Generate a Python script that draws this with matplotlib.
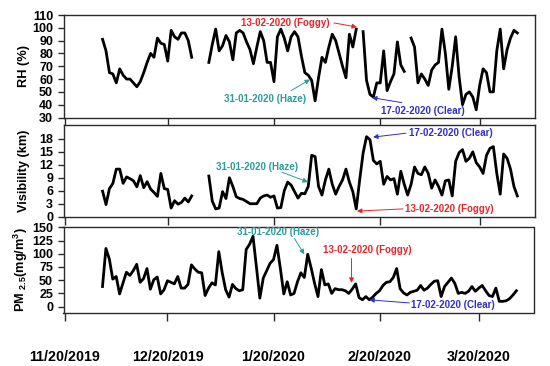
import numpy as np
import matplotlib
matplotlib.use("Agg")
import matplotlib.pyplot as plt
import matplotlib.dates as mdates
import pandas as pd

plt.rcParams['font.family'] = ['Liberation Sans', 'DejaVu Sans']
plt.rcParams['font.weight'] = 'bold'
plt.rcParams['mathtext.fontset'] = 'custom'
plt.rcParams['mathtext.rm'] = 'Liberation Sans:bold'
plt.rcParams['mathtext.it'] = 'Liberation Sans:bold'
plt.rcParams['mathtext.bf'] = 'Liberation Sans:bold'

nan = np.nan
dates = pd.date_range("2019-12-01", "2020-03-31", freq="D")

rh = ([91, 82, 65, 64, 57, 68, 63, 60, 60, 57, 54, 58, 65, 73, 80, 77, 92, 88, 87, 74,
       98, 93, 91, 96, 96, 90, 77]
      + [nan] * 4
      + [73, 87, 99, 82, 86, 94, 89, 75, 96, 98, 96, 89, 83, 72, 85, 97, 90, 73, 73, 58]
      + [93, 99, 92, 82, 93, 97, 93, 78, 65, 63, 59, 43, 61, 77, 73, 85, 95, 90, 80, 70,
         61, 95, 85, 99]
      + [nan]
      + [97, 59, 48, 46, 57, 57, 82, 51, 58, 64, 89, 71, 66]
      + [nan]
      + [92, 85, 57, 64, 60, 55, 67, 71, 73, 99, 80, 52, 70, 93, 62, 40, 48, 50, 46, 36,
         55, 68, 65, 50, 50, 82, 99, 68, 83, 92, 98, 96])

visibility = ([5.9, 2.8, 6.5, 7.7, 11.0, 11.0, 7.7, 9.2, 8.8, 8.3, 6.9, 9.5, 6.7, 8.1, 6.4,
               5.6, 4.7, 10.0, 6.5, 6.3, 2.0, 3.7, 2.9, 3.3, 4.3, 3.4, 4.8]
              + [nan] * 4
              + [9.4, 3.6, 1.8, 2.0, 5.8, 4.2, 9.0, 7.0, 4.6, 4.2,
                 4.0, 3.5, 3.0, 3.0, 3.0, 4.3, 4.8, 5.0, 4.5, 4.8,
                 2.0, 2.1, 6.0, 8.0, 7.3, 5.8, 4.3, 5.4, 5.3, 7.0,
                 14.2, 13.9, 7.0, 5.0, 8.5, 11.0, 7.5, 5.2, 7.0, 8.5,
                 11.0, 8.0, 5.8, 1.8, 8.5, 14.7, 18.5, 17.8, 13.0, 12.2,
                 12.8, 7.5, 9.3, 8.5, 8.8, 5.2, 10.5, 7.5, 5.0, 7.5,
                 11.5, 10.0, 9.7, 11.5, 10.0, 6.6, 8.5, 7.0, 5.0, 8.3,
                 8.5, 4.8, 12.8, 14.8, 15.5, 12.8, 13.5, 15.0, 12.5, 11.5,
                 10.0, 14.2, 15.8, 16.2, 10.0, 5.2, 14.5, 13.5, 11.0, 7.0, 4.8])

pm25 = [38, 110, 90, 52, 57, 24, 45, 65, 59, 68,
        80, 46, 53, 72, 33, 51, 56, 24, 32, 49,
        46, 43, 57, 35, 35, 42, 79, 71, 65, 64,
        21, 35, 45, 41, 104, 64, 32, 18, 42, 34,
        30, 32, 108, 118, 133, 75, 16, 54, 68, 82,
        89, 116, 72, 24, 47, 22, 25, 47, 64, 55,
        99, 73, 44, 19, 70, 41, 43, 25, 34, 32,
        32, 30, 25, 33, 43, 17, 13, 19, 13, 18,
        25, 30, 40, 46, 47, 55, 72, 34, 26, 22,
        27, 29, 31, 40, 31, 35, 42, 48, 49, 19,
        38, 46, 54, 44, 25, 27, 25, 29, 38, 29,
        35, 40, 30, 21, 19, 35, 10, 10, 11, 15, 22, 30]

tick_dates = ["2019-11-20", "2019-12-20", "2020-01-20", "2020-02-20", "2020-03-20"]
tick_labels = ["11/20/2019", "12/20/2019", "1/20/2020", "2/20/2020", "3/20/2020"]

RED = '#e3262d'
TEAL = '#2b9b9b'
BLUE = '#2f2fc6'

fig = plt.figure(figsize=(5.5, 3.66), dpi=100)
W, H = 550.0, 366.0

def axes_px(l, r, t, b):
    return fig.add_axes([l / W, (H - b) / H, (r - l) / W, (b - t) / H])

ax1 = axes_px(63.5, 534.5, 15, 117.5)
ax2 = axes_px(63.5, 534.5, 125, 216.7)
ax3 = axes_px(63.5, 533.5, 227.3, 312.7)

x0 = mdates.date2num(pd.Timestamp("2019-11-20")) - 0.4
x1 = mdates.date2num(pd.Timestamp("2020-04-05")) + 0.0
base = mdates.date2num(pd.Timestamp("2019-12-01"))
def D(d):
    return base + d

tpos = [mdates.date2num(pd.Timestamp(t)) for t in tick_dates]

for ax, y, lab, ylim, yt in [
        (ax1, rh, 'RH (%)', (30, 110), np.arange(30, 111, 10)),
        (ax2, visibility, 'Visibility (km)', (0, 21.2), np.arange(0, 19, 3)),
        (ax3, pm25, r'PM $_{2.5}$(mg/m$^{3}$)', (-11.5, 150), np.arange(0, 151, 25))]:
    ax.plot(dates, y, color='black', lw=2.0, solid_joinstyle='round')
    ax.set_xlim(x0, x1)
    ax.set_ylim(*ylim)
    ax.set_yticks(yt)
    ax.set_xticks(tpos)
    for s in ax.spines.values():
        s.set_color('#2a2a2a')
        s.set_linewidth(1.0)
    ax.tick_params(axis='both', direction='out', color='#2a2a2a', width=1.0,
                   labelsize=9, pad=3)
    ax.tick_params(axis='x', length=5.5)
    ax.tick_params(axis='y', length=4.5)
    ax.set_ylabel(lab, fontsize=9.2, fontweight='bold')
    ax.yaxis.set_label_coords(-0.072, 0.5)

ax1.set_xticklabels([])
ax2.set_xticklabels([])
ax3.set_xticklabels(tick_labels, fontsize=10.3, fontweight='bold')
ax3.tick_params(axis='x', pad=21)

def note(ax, text, color, tx, ty, start, tip):
    ax.text(D(tx), ty, text, color=color, fontsize=7, fontweight='bold',
            ha='center', va='center')
    ax.annotate('', xy=(D(tip[0]), tip[1]), xytext=(D(start[0]), start[1]),
                arrowprops=dict(arrowstyle='-|>', color=color, lw=0.7,
                                mutation_scale=7, shrinkA=0, shrinkB=0))

# Top panel
note(ax1, '13-02-2020 (Foggy)', RED, 53.2, 103.8, (67.5, 103.8), (74.2, 100.6))
note(ax1, '31-01-2020 (Haze)', TEAL, 47.5, 44.7, (55.0, 51.0), (60.5, 59.7))
note(ax1, '17-02-2020 (Clear)', BLUE, 93.4, 35.3, (87.3, 41.6), (78.6, 45.5))
# Middle panel
note(ax2, '31-01-2020 (Haze)', TEAL, 45.2, 11.5, (52.3, 10.3), (59.9, 8.0))
note(ax2, '17-02-2020 (Clear)', BLUE, 101.5, 19.3, (88.5, 19.3), (78.9, 18.4))
note(ax2, '13-02-2020 (Foggy)', RED, 101.2, 1.8, (87.6, 1.8), (74.2, 1.3))
# Bottom panel
note(ax3, '31-01-2020 (Haze)', TEAL, 51.3, 141, (56.1, 129), (59.0, 99))
note(ax3, '13-02-2020 (Foggy)', RED, 77.3, 108, (72.8, 91), (72.8, 45))
note(ax3, '17-02-2020 (Clear)', BLUE, 102.5, 3.2, (89.7, 7), (78.0, 12.8))

fig.savefig('out.png', dpi=100)
